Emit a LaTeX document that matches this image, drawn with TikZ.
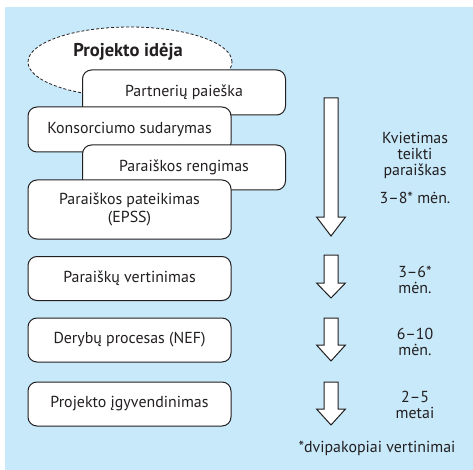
\documentclass[tikz,border=0pt]{standalone}
\usepackage{fontspec}
\setmainfont{PT Sans}
\usetikzlibrary{shapes.geometric}
\definecolor{skyblue}{RGB}{199,233,250}
\definecolor{inkgray}{RGB}{35,31,32}
\begin{document}
\begin{tikzpicture}[x=1pt, y=-1pt, font=\fontsize{15.9}{16}\selectfont, text=inkgray]
    \tikzstyle{stage}=[draw=inkgray, fill=white, line width=1pt, rounded corners=9pt, minimum width=203pt, minimum height=45pt, inner sep=0pt, align=center]
    \tikzstyle{period}=[align=center]
    \tikzstyle{flow}=[draw=inkgray, fill=white, line width=1pt, line join=miter]

    \useasboundingbox (0,0) rectangle (473,470);
    \fill[skyblue] (5,7) rectangle (473,470);

    % idea cloud
    \node[ellipse, draw=inkgray, dash pattern=on 3pt off 2pt, fill=white, line width=0.8pt, minimum width=204pt, minimum height=70pt] (idea) at (130,62) {};
    \node[font=\fontsize{18.5}{22}\selectfont\bfseries] (ideatext) at (128,52) {Projekto idėja};

    % stages
    \node[stage] (partners) at (184,92.5) {Partnerių paieška};
    \node[stage] (consortium) at (129.5,129.5) {Konsorciumo sudarymas};
    \node[stage] (drafting) at (184,167.5) {Paraiškos rengimas};
    \node[stage, minimum height=59pt, font=\fontsize{15.9}{18}\selectfont] (submission) at (129.5,209.5) {Paraiškos pateikimas\\(EPSS)};
    \node[stage, minimum height=44pt] (evaluation) at (129.5,278.5) {Paraiškų vertinimas};
    \node[stage, minimum height=44pt] (negotiation) at (129.5,340) {Derybų procesas (NEF)};
    \node[stage, minimum height=44pt] (implementation) at (129.5,404) {Projekto įgyvendinimas};

    % time arrows
    \foreach \top/\base/\tip in {98/217/236, 255/283/298, 318/345/361, 382/409/425}
        \draw[flow] (324,\top) -- (338,\top) -- (338,\base) -- (345.5,\base) -- (331,\tip)
            -- (316.5,\base) -- (324,\base) -- cycle;

    % durations
    \node[period] (call) at (415,155) {Kvietimas\\teikti\\paraiškas};
    \node[period] (callmonths) at (415,198) {3--8* mėn.};
    \node[period] (evalmonths) at (415,280) {3--6*\\mėn.};
    \node[period] (negmonths) at (415,342) {6--10\\mėn.};
    \node[period] (implyears) at (415,405) {2--5\\metai};
    \node[period] (footnote) at (377,448) {*dvipakopiai vertinimai};
\end{tikzpicture}
\end{document}
